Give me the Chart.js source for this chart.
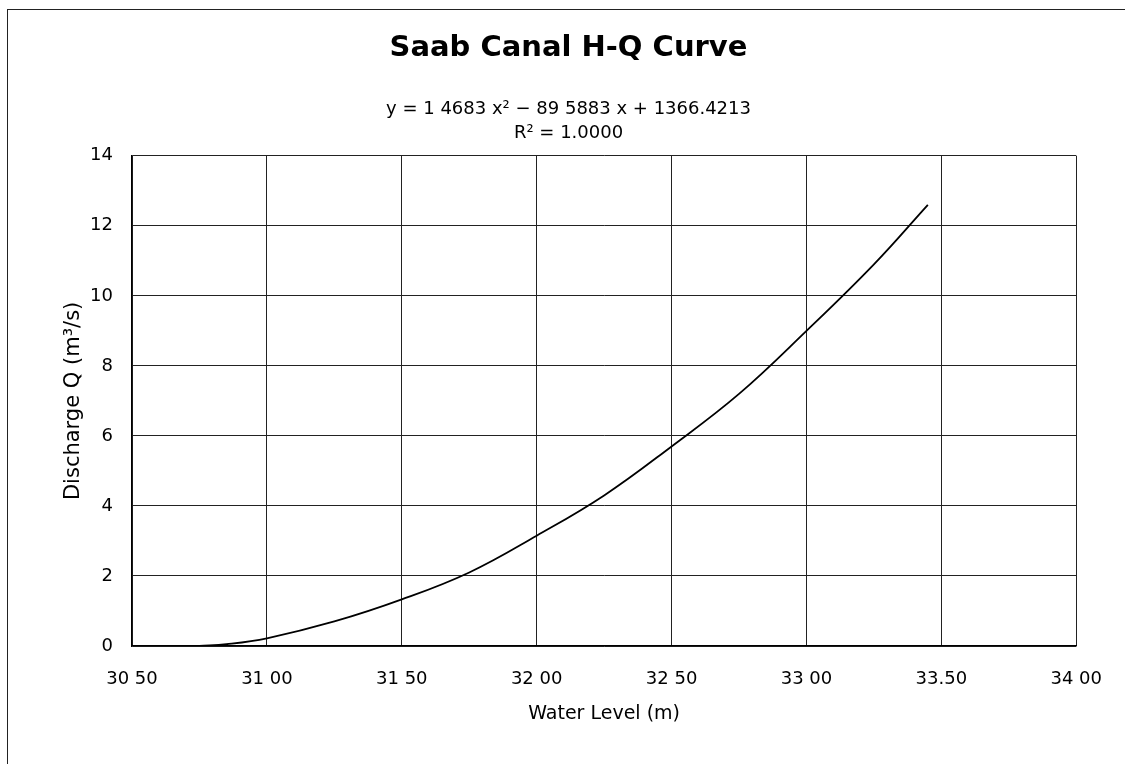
<!DOCTYPE html>
<html>
<head>
<meta charset="utf-8">
<script src="https://cdn.jsdelivr.net/npm/chart.js@4/dist/chart.umd.min.js"></script>
<style>
  html, body { margin: 0; padding: 0; background: #fff; }
  #wrap { position: relative; width: 1125px; height: 764px; overflow: hidden; }
  #frame {
    position: absolute; left: 7px; top: 9px; width: 1200px; height: 800px;
    border-top: 1px solid #222; border-left: 1px solid #222;
  }
  canvas { position: absolute; left: 0; top: 0; }
</style>
</head>
<body>
<div id="wrap">
  <div id="frame"></div>
  <canvas id="chartHQ" width="1125" height="764"></canvas>
</div>
<script>
// Water level (m) vs discharge (m3/s)
const waterLevel = [30.75, 30.85, 31.00, 31.25, 31.50, 31.75, 32.00, 32.25, 32.50, 32.75, 33.00, 33.25, 33.45];
const discharge  = [0.00, 0.05, 0.22, 0.70, 1.33, 2.10, 3.15, 4.30, 5.70, 7.20, 9.00, 10.90, 12.60];

// x tick labels as printed on the sheet
const xTicks = [30.5, 31.0, 31.5, 32.0, 32.5, 33.0, 33.5, 34.0];
const xTickLabels = ['30 50', '31 00', '31 50', '32 00', '32 50', '33 00', '33.50', '34 00'];

const titleText = 'Saab Canal H-Q Curve';
const equationLines = ['y = 1 4683 x\u00B2 \u2212 89 5883 x + 1366.4213', 'R\u00B2 = 1.0000'];

const FONT = "'DejaVu Sans', Verdana, sans-serif";
const gridColor = '#222';

const points = waterLevel.map((x, i) => ({ x: x, y: discharge[i] }));

new Chart(document.getElementById('chartHQ'), {
    type: 'scatter',
    data: {
        datasets: [{
            data: points,
            showLine: true,
            borderColor: '#000',
            borderWidth: 1.8,
            pointRadius: 0,
            tension: 0.4,
            fill: false
        }]
    },
    options: {
        responsive: false,
        animation: false,
        layout: { padding: { left: 60, right: 48, top: 0, bottom: 39 } },
        plugins: {
            legend: { display: false },
            tooltip: { enabled: false },
            title: {
                display: true,
                text: titleText,
                color: '#000',
                font: { family: FONT, size: 29, weight: 'bold', lineHeight: 1.2 },
                padding: { top: 31, bottom: 32 }
            },
            subtitle: {
                display: true,
                text: equationLines,
                color: '#000',
                font: { family: FONT, size: 18, lineHeight: 1.333 },
                padding: { top: 0, bottom: 10 }
            }
        },
        scales: {
            x: {
                type: 'linear',
                min: 30.5,
                max: 34.0,
                afterBuildTicks: (axis) => { axis.ticks = xTicks.map(v => ({ value: v })); },
                afterFit: (axis) => { axis.height = 79; },
                ticks: {
                    color: '#000',
                    font: { family: FONT, size: 18 },
                    padding: 23,
                    maxRotation: 0,
                    callback: (v) => {
                        const i = xTicks.findIndex(t => Math.abs(t - v) < 1e-6);
                        return i >= 0 ? xTickLabels[i] : '';
                    }
                },
                grid: { color: gridColor, lineWidth: 1, drawTicks: false },
                border: { color: '#000', width: 1.2 },
                title: {
                    display: true,
                    text: 'Water Level (m)',
                    color: '#000',
                    font: { family: FONT, size: 19, lineHeight: 1.2 },
                    padding: { top: 0, bottom: 0 }
                }
            },
            y: {
                min: 0,
                max: 14,
                afterFit: (axis) => { axis.width = 72; },
                ticks: {
                    stepSize: 2,
                    color: '#000',
                    font: { family: FONT, size: 18 },
                    padding: 19
                },
                grid: { color: gridColor, lineWidth: 1, drawTicks: false },
                border: { color: '#000', width: 1.2 },
                title: {
                    display: true,
                    text: 'Discharge Q (m\u00B3/s)',
                    color: '#000',
                    font: { family: FONT, size: 21, lineHeight: 1.2 },
                    padding: { top: 1, bottom: 0 }
                }
            }
        }
    }
});
</script>
</body>
</html>
